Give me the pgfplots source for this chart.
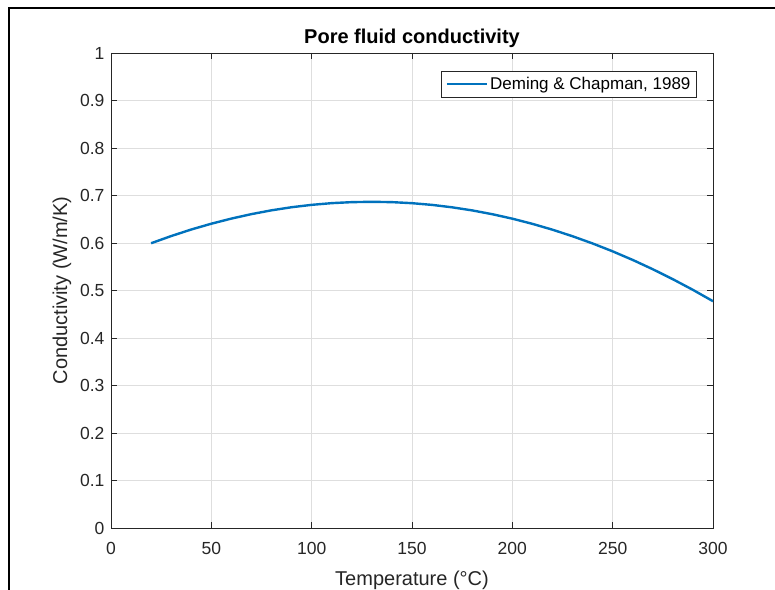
\documentclass[border=0pt]{standalone}
\usepackage{pgfplots}
\pgfplotsset{compat=1.18}
\usepackage{fontspec}
\setmainfont{Liberation Sans}
\definecolor{mblue}{rgb}{0,0.447,0.741}
\definecolor{axgray}{rgb}{0.15,0.15,0.15}
\definecolor{gridgray}{rgb}{0.87,0.87,0.87}
\begin{document}
\begin{tikzpicture}[x=1bp,y=1bp]
\useasboundingbox (0,0) rectangle (775,590);
\fill[white] (0,0) rectangle (775,590);
\draw[black,line width=2.2bp] (9,-10) -- (9,582) -- (790,582);
\begin{axis}[
  at={(111bp,62bp)}, anchor=south west,
  scale only axis, width=602bp, height=475bp,
  xmin=0, xmax=300, ymin=0, ymax=1,
  xtick={0,50,...,300},
  ytick={0,0.1,0.2,0.3,0.4,0.5,0.6,0.7,0.8,0.9,1},
  yticklabel style={/pgf/number format/fixed,/pgf/number format/precision=1},
  /pgf/number format/assume math mode=true,
  tick align=inside, major tick length=6bp,
  xtick pos=both, ytick pos=both,
  axis line style={axgray, line width=0.7bp},
  tick style={axgray, line width=0.7bp},
  grid=major,
  major grid style={gridgray, line width=0.6bp},
  tick label style={text=axgray, font=\fontsize{17.5bp}{20bp}\selectfont},
  xticklabel style={yshift=-11bp},
  yticklabel style={xshift=-3bp},
  xlabel={Temperature (°C)},
  ylabel={Conductivity (W/m/K)},
  label style={text=axgray, font=\fontsize{20bp}{24bp}\selectfont},
  xlabel style={at={(axis description cs:0.5,-0.11)}, anchor=center},
  ylabel style={at={(axis description cs:-0.0814,0.5)}, anchor=center, rotate=0},
  title={Pore fluid conductivity},
  title style={at={(axis description cs:0.5,1.02)}, anchor=south, yshift=-14bp, font=\bfseries\fontsize{20bp}{24bp}\selectfont, text=black},
  legend style={at={(axis description cs:0.973,0.962)}, anchor=north east,
    draw=axgray, line width=0.6bp, fill=white, font=\fontsize{17bp}{20bp}\selectfont,
    inner xsep=4bp, inner ysep=4bp, text=black},
  legend cell align=left,
  legend image code/.code={\draw[#1] (0bp,0bp) -- (40bp,0bp);},
]
\addplot[mblue, line width=2.4bp] coordinates {
(20,0.5995) (30,0.6146) (40,0.6284) (50,0.6406) (60,0.6514) (70,0.6608)
(80,0.6688) (90,0.6753) (100,0.6803) (110,0.6839) (120,0.6860) (130,0.6867)
(140,0.6860) (150,0.6838) (160,0.6802) (170,0.6751) (180,0.6686) (190,0.6606)
(200,0.6512) (210,0.6403) (220,0.6280) (230,0.6142) (240,0.5990) (250,0.5824)
(260,0.5643) (270,0.5447) (280,0.5237) (290,0.5013) (300,0.4774)
};
\addlegendentry{Deming \& Chapman, 1989}
\end{axis}
\end{tikzpicture}
\end{document}
